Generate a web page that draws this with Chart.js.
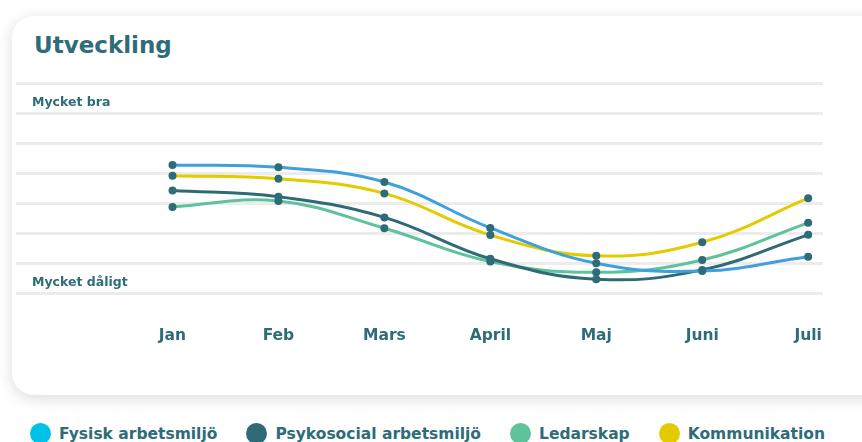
<!DOCTYPE html>
<html>
<head>
<meta charset="utf-8">
<script src="https://cdn.jsdelivr.net/npm/chart.js@4.4.1/dist/chart.umd.min.js"></script>
<style>
	body{margin:0;width:862px;height:442px;overflow:hidden;position:relative;background:#fff;font-family:"DejaVu Sans",sans-serif;}
	.card{position:absolute;left:12px;top:16px;width:900px;height:379px;background:#fff;border-radius:22px;box-shadow:0 3px 15px rgba(0,0,0,0.15);}
	h1{position:absolute;left:34px;top:32px;margin:0;font-size:23px;line-height:26px;font-weight:700;color:#2e6c78;}
	.chart{position:absolute;left:12px;top:70px;width:815px;height:273px;}
	.legend{position:absolute;left:30px;top:423px;width:795px;height:21px;display:flex;align-items:center;justify-content:space-between;}
	.legend span{display:flex;align-items:center;font-size:15.5px;font-weight:700;color:#2e6c78;white-space:nowrap;}
	.legend i{display:inline-block;width:21px;height:21px;border-radius:50%;margin-right:8px;}
</style>
</head>
<body>
<div class="card"></div>
<h1>Utveckling</h1>
<div class="chart"><canvas id="ctx"></canvas></div>
<div class="legend" id="legend"></div>
<script>
	var months = ['Jan','Feb','Mars','April','Maj','Juni','Juli'];
	var names = ['Fysisk arbetsmiljö','Psykosocial arbetsmiljö','Ledarskap','Kommunikation'];
	var fysisk = [4.27,4.19,3.70,2.17,0.99,0.73,1.21];
	var psykosocial = [3.42,3.21,2.52,1.14,0.46,0.77,1.94];
	var ledarskap = [2.87,3.07,2.16,1.05,0.69,1.10,2.34];
	var kommunikation = [3.91,3.81,3.32,1.93,1.24,1.69,3.16];
	var yLabels = {6:'Mycket bra',0:'Mycket dåligt'};

	var lineColors = ['#3fa0dc','#2f6b77','#5ec29b','#e3cb00'];
	var legendColors = ['#00c2e8','#2f6b77','#5ec29b','#e3cb00'];
	var teal = '#2e6c78';

	var series = [fysisk,psykosocial,ledarskap,kommunikation];

	function points(values){
		return values.map(function(v,i){
			return {x:i,y:v};
		});
	}

	var datasets = series.map(function(values,index){
		return {
			label:names[index],
			data:points(values),
			borderColor:lineColors[index],
			borderWidth:3,
			tension:0.4,
			fill:false,
			pointRadius:4,
			pointBorderWidth:0,
			pointBackgroundColor:teal
		};
	});

	new Chart(document.getElementById('ctx'),{
		type:'line',
		data:{datasets:datasets},
		options:{
			responsive:true,
			maintainAspectRatio:false,
			animation:false,
			layout:{padding:{top:13}},
			plugins:{legend:{display:false},tooltip:{enabled:false}},
			scales:{
				x:{
					type:'linear',
					min:-1.477,
					max:6.14,
					grid:{display:false,drawTicks:false},
					border:{display:false},
					afterBuildTicks:function(scale){
						scale.ticks = months.map(function(m,i){ return {value:i}; });
					},
					afterFit:function(scale){
						scale.height = 50;
						scale.paddingLeft = 0;
						scale.paddingRight = 0;
					},
					ticks:{
						autoSkip:false,
						maxRotation:0,
						padding:34,
						color:teal,
						font:{family:'DejaVu Sans',size:15.5,weight:'bold'},
						callback:function(value){ return months[value]; }
					}
				},
				y:{
					min:0,
					max:7,
					grid:{color:'#ececec',lineWidth:3,drawTicks:false},
					border:{display:false},
					afterFit:function(scale){
						scale.width = 0;
						scale.paddingTop = 0;
						scale.paddingBottom = 0;
					},
					ticks:{
						stepSize:1,
						mirror:true,
						padding:16,
						labelOffset:-10.5,
						color:teal,
						font:{family:'DejaVu Sans',size:12.5,weight:'bold'},
						callback:function(value){ return yLabels[value] || ''; }
					}
				}
			}
		}
	});

	var legend = document.getElementById('legend');
	names.forEach(function(name,index){
		var item = document.createElement('span');
		var dot = document.createElement('i');
		dot.style.background = legendColors[index];
		item.appendChild(dot);
		item.appendChild(document.createTextNode(name));
		legend.appendChild(item);
	});
</script>
</body>
</html>
